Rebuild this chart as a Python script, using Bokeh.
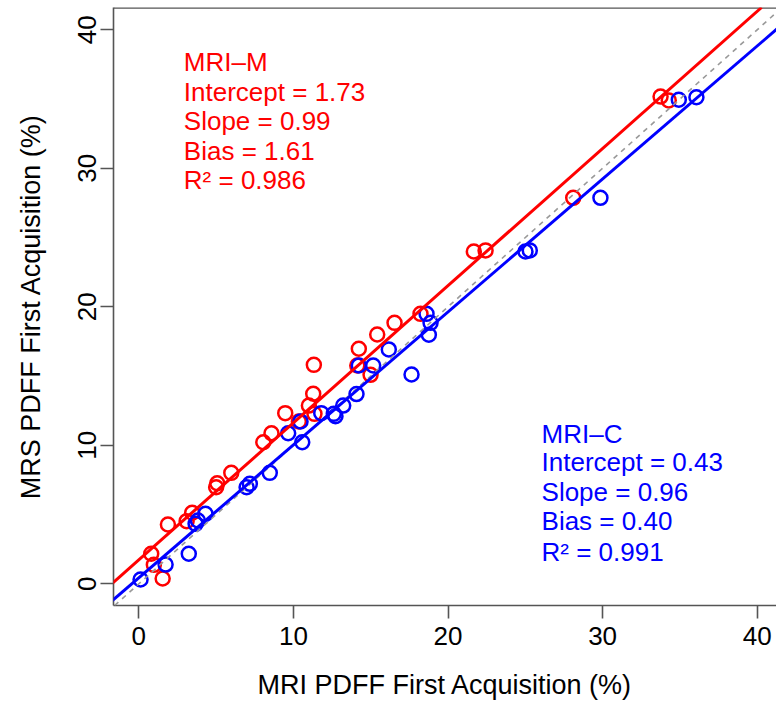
from bokeh.plotting import figure
from bokeh.models import Range1d, FixedTicker, Slope, Label, Span
from bokeh.embed import file_html
from bokeh.resources import INLINE

# ---- data ----
mri_m_x = [1.54, 0.97, 0.80, 1.88, 3.09, 3.45, 5.00, 5.07, 5.98, 8.05, 8.58, 9.47, 10.35, 11.00,
           11.28, 11.36, 11.32, 14.13, 14.23, 14.99, 15.42, 16.54, 18.22, 21.67, 22.43, 28.10,
           33.75, 34.28]
mri_m_y = [0.38, 1.37, 2.17, 4.28, 4.52, 5.13, 6.97, 7.26, 8.01, 10.22, 10.87, 12.32, 11.72, 12.87,
           13.72, 12.27, 15.81, 15.76, 16.97, 15.09, 18.00, 18.84, 19.49, 23.99, 24.07, 27.87,
           35.18, 34.90]
mri_c_x = [0.11, 1.73, 3.23, 3.67, 3.82, 4.31, 6.97, 7.18, 8.47, 9.66, 10.57, 10.46, 11.80, 12.61,
           12.72, 13.22, 14.08, 14.23, 15.16, 16.17, 17.64, 18.61, 18.87, 18.76, 25.01, 25.29,
           29.86, 34.93, 36.07]
mri_c_y = [0.31, 1.39, 2.17, 4.33, 4.57, 5.05, 6.97, 7.22, 8.01, 10.87, 10.22, 11.72, 12.32, 12.27,
           12.10, 12.87, 13.70, 15.76, 15.76, 16.92, 15.11, 19.49, 18.84, 17.98, 23.99, 24.07,
           27.87, 34.95, 35.13]

m_intercept, m_slope = 1.73, 0.99
c_intercept, c_slope = 0.43, 0.96

m_text = ["MRI\u2013M", "Intercept = 1.73", "Slope = 0.99", "Bias = 1.61", "R\u00b2 = 0.986"]
c_text = ["MRI\u2013C", "Intercept = 0.43", "Slope = 0.96", "Bias = 0.40", "R\u00b2 = 0.991"]

ticks = [0, 10, 20, 30, 40]

FONT = "Liberation Sans"
RED = "#ff0000"
BLUE = "#0000ff"
FRAME = "#555555"

X0, X1 = -1.64, 41.25
Y0, Y1 = -1.567, 41.61

p = figure(frame_width=663, frame_height=598, output_backend="svg", toolbar_location=None,
           x_range=Range1d(X0, X1), y_range=Range1d(Y0, Y1),
           min_border_left=113, min_border_right=0, min_border_top=7, min_border_bottom=99)
p.outline_line_color = None
p.xgrid.visible = False
p.ygrid.visible = False
p.background_fill_color = "white"

for ax in (p.xaxis[0], p.yaxis[0]):
    ax.ticker = FixedTicker(ticks=ticks)
    ax.axis_line_color = FRAME
    ax.axis_line_width = 1.6
    ax.major_tick_line_color = FRAME
    ax.major_tick_line_width = 1.6
    ax.major_tick_out = 13
    ax.major_tick_in = 0
    ax.minor_tick_line_color = None
    ax.major_label_text_font = FONT
    ax.major_label_text_font_size = "26px"
    ax.major_label_text_color = "black"
    ax.axis_label_text_font = FONT
    ax.axis_label_text_font_size = "27px"
    ax.axis_label_text_font_style = "normal"
    ax.axis_label_text_color = "black"

p.xaxis.axis_label = "MRI PDFF First Acquisition (%)"
p.yaxis.axis_label = "MRS PDFF First Acquisition (%)"
p.xaxis.major_label_standoff = 8
p.xaxis.axis_label_standoff = 22
p.yaxis.major_label_orientation = "vertical"
p.yaxis.major_label_standoff = 4
p.yaxis.axis_label_standoff = 30

# top border of the box
p.add_layout(Span(location=Y1, dimension="width", line_color=FRAME, line_width=2.5))

# points
p.scatter(mri_m_x, mri_m_y, marker="circle", size=14, fill_color=None,
          line_color=RED, line_width=2.5)
p.scatter(mri_c_x, mri_c_y, marker="circle", size=14, fill_color=None,
          line_color=BLUE, line_width=2.5)

# identity and regression lines
p.add_layout(Slope(gradient=1, y_intercept=0, line_color="#999999", line_width=1.6,
                   line_dash="5 5"))
p.add_layout(Slope(gradient=m_slope, y_intercept=m_intercept, line_color=RED, line_width=3))
p.add_layout(Slope(gradient=c_slope, y_intercept=c_intercept, line_color=BLUE, line_width=3))

# annotations
m_y = [37.64, 35.51, 33.38, 31.25, 29.13]
c_y = [10.78, 8.76, 6.61, 4.50, 2.28]
for t, yy in zip(m_text, m_y):
    p.add_layout(Label(x=2.91, y=yy, text=t, text_color=RED, text_font=FONT,
                       text_font_size="26px", text_baseline="alphabetic"))
for t, yy in zip(c_text, c_y):
    p.add_layout(Label(x=26.05, y=yy, text=t, text_color=BLUE, text_font=FONT,
                       text_font_size="26px", text_baseline="alphabetic"))

open("out.html", "w").write(file_html(p, INLINE))
